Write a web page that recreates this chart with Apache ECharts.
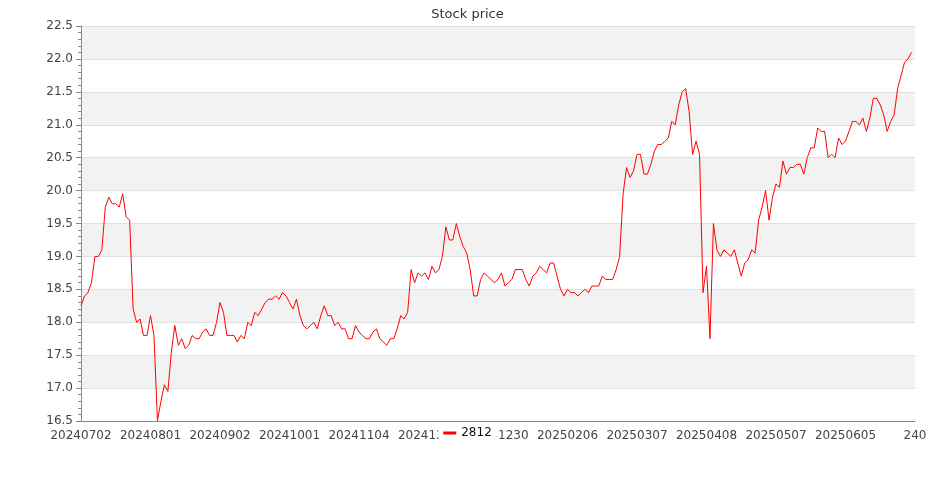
<!DOCTYPE html>
<html>
<head>
<meta charset="utf-8">
<script src="https://cdn.jsdelivr.net/npm/echarts@6/dist/echarts.min.js"></script>
<style>html,body{margin:0;padding:0;background:#fff}#c{width:935px;height:500px}</style>
</head>
<body>
<div id="c"></div>
<script>
const titleText = 'Stock price';
const seriesName = '2812';
const tickLabels = ['20240702','20240801','20240902','20241001','20241104','20241202','20241230','20250206','20250307','20250408','20250507','20250605','240'];
const labelStep = 20;
const yTicks = [16.5, 22.5, 0.5];
const prices = [
18.25,18.4,18.45,18.6,19.0,19.0,19.1,19.75,19.9,19.8,
19.8,19.75,19.95,19.6,19.55,18.2,18.0,18.05,17.8,17.8,
18.1,17.8,16.5,16.8,17.05,16.95,17.55,17.95,17.65,17.75,
17.6,17.65,17.8,17.75,17.75,17.85,17.9,17.8,17.8,18.0,
18.3,18.15,17.8,17.8,17.8,17.7,17.8,17.75,18.0,17.95,
18.15,18.1,18.2,18.3,18.35,18.35,18.4,18.35,18.45,18.4,
18.3,18.2,18.35,18.1,17.95,17.9,17.95,18.0,17.9,18.1,
18.25,18.1,18.1,17.95,18.0,17.9,17.9,17.75,17.75,17.95,
17.85,17.8,17.75,17.75,17.85,17.9,17.75,17.7,17.65,17.75,
17.75,17.9,18.1,18.05,18.15,18.8,18.6,18.75,18.7,18.75,
18.65,18.85,18.75,18.8,19.0,19.45,19.25,19.25,19.5,19.3,
19.15,19.05,18.8,18.4,18.4,18.65,18.75,18.7,18.65,18.6,
18.65,18.75,18.55,18.6,18.65,18.8,18.8,18.8,18.65,18.55,
18.7,18.75,18.85,18.8,18.75,18.9,18.9,18.7,18.5,18.4,
18.5,18.45,18.45,18.4,18.45,18.5,18.45,18.55,18.55,18.55,
18.7,18.65,18.65,18.65,18.8,19.0,19.95,20.35,20.2,20.3,
20.55,20.55,20.25,20.25,20.4,20.6,20.7,20.7,20.75,20.8,
21.05,21.0,21.3,21.5,21.55,21.2,20.55,20.75,20.55,18.45,
18.85,17.75,19.5,19.1,19.0,19.1,19.05,19.0,19.1,18.9,
18.7,18.9,18.95,19.1,19.05,19.55,19.75,20.0,19.55,19.9,
20.1,20.05,20.45,20.25,20.35,20.35,20.4,20.4,20.25,20.5,
20.65,20.65,20.95,20.9,20.9,20.5,20.55,20.5,20.8,20.7,
20.75,20.9,21.05,21.05,21.0,21.1,20.9,21.1,21.4,21.4,
21.3,21.15,20.9,21.05,21.15,21.55,21.75,21.95,22.0,22.1
];
// one category per slot; every labelStep-th slot carries a tick label
const categoryCount = (tickLabels.length - 1) * labelStep + 1;
const categories = [];
for (let i = 0; i < categoryCount; i++) {
  categories.push(i % labelStep === 0 ? tickLabels[i / labelStep] : 'd' + i);
}

const font = 'DejaVu Sans';
const chart = echarts.init(document.getElementById('c'), null, {renderer: 'canvas'});
chart.setOption({
  animation: false,
  backgroundColor: '#fff',
  title: {
    text: titleText, left: 'center', top: 3,
    textStyle: {fontFamily: font, fontSize: 13, fontWeight: 'normal', color: '#333'}
  },
  legend: {
    data: [seriesName], left: 'center', top: 427,
    backgroundColor: '#fff', padding: [0, 5, 0, 5],
    icon: 'rect', itemWidth: 13, itemHeight: 3, itemGap: 5,
    textStyle: {fontFamily: font, fontSize: 12, color: '#111'}
  },
  grid: {left: 81, right: 20, top: 26, bottom: 79, containLabel: false},
  xAxis: {
    type: 'category', data: categories, boundaryGap: false,
    axisLine: {lineStyle: {color: '#888'}},
    axisTick: {show: false},
    axisLabel: {
      interval: labelStep - 1, fontFamily: font, fontSize: 12, color: '#444', margin: 9,
      formatter: v => v.charAt(0) === 'd' ? '' : v
    },
    splitLine: {show: false}
  },
  yAxis: {
    type: 'value', min: yTicks[0], max: yTicks[1], interval: yTicks[2],
    axisLine: {show: true, lineStyle: {color: '#888'}},
    axisTick: {show: true, length: 5, lineStyle: {color: '#888'}},
    minorTick: {show: true, splitNumber: 5, length: 3, lineStyle: {color: '#888'}},
    axisLabel: {fontFamily: font, fontSize: 12, color: '#444', formatter: v => v.toFixed(1)},
    splitLine: {show: true, lineStyle: {color: '#e0e0e0'}},
    splitArea: {show: true, areaStyle: {color: ['#ffffff', '#f2f2f2']}}
  },
  series: [{
    name: seriesName, type: 'line', data: prices,
    showSymbol: false, symbol: 'none',
    lineStyle: {color: '#ff0000', width: 1},
    itemStyle: {color: '#ff0000'}
  }]
});
</script>
</body>
</html>
